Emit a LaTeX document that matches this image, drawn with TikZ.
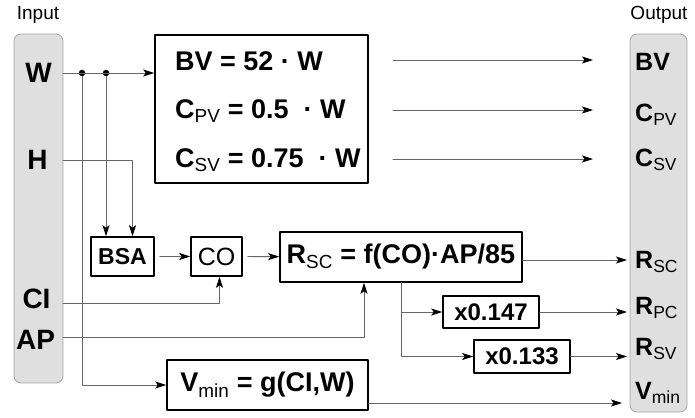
\documentclass[tikz,border=0pt]{standalone}
\usepackage{fontspec}
\setmainfont{Liberation Sans}
\usetikzlibrary{arrows.meta,positioning}
\newcommand\idx[1]{\textsubscript{\mdseries #1}}
\tikzset{
  panel/.style={draw=gray!70, fill=gray!25, rounded corners=7pt, line width=0.8pt},
  calcbox/.style={draw, line width=1.6pt, inner sep=0pt},
  flow/.style={draw=black!60, line width=0.8pt, -{Stealth[length=11pt,width=7pt,inset=2.5pt,color=black]}},
  junction/.style={circle, fill=black, inner sep=0pt, minimum size=6.5pt},
  iolbl/.style={inner sep=0pt, font=\fontsize{28}{28}\selectfont\bfseries},
  outlbl/.style={anchor=west, inner sep=0pt, font=\fontsize{25}{25}\selectfont\bfseries},
  eqtext/.style={anchor=west, inner sep=0pt, font=\fontsize{27}{27}\selectfont\bfseries},
  title/.style={font=\fontsize{19}{19}\selectfont},
}
\begin{document}
\begin{tikzpicture}[x=1pt, y=-1pt, line cap=round, line join=round]
  \useasboundingbox (0,0) rectangle (695,417);
  % side panels
  \draw[panel] (14,34) rectangle (63,383);
  \draw[panel] (630,34) rectangle (687,412);
  \node[title] (intitle) at (38,15) {Input};
  \node[title] (outtitle) at (659,15) {Output};
  % inputs
  \node[iolbl] (W) at (38.5,73) {W};
  \node[iolbl] (H) at (37.5,160) {H};
  \node[iolbl] (CI) at (36.5,299) {CI};
  \node[iolbl] (AP) at (35.5,340) {AP};
  \coordinate (w0) at (63,73);
  \coordinate (h0) at (63,160);
  \coordinate (ci0) at (63,303);
  \coordinate (ap0) at (63,337);
  % outputs
  \node[outlbl] (BVo) at (635,62) {BV};
  \node[outlbl] (CPVo) at (635,115) {C\idx{PV}};
  \node[outlbl] (CSVo) at (635,160) {C\idx{SV}};
  \node[outlbl] (RSCo) at (635,262) {R\idx{SC}};
  \node[outlbl] (RPCo) at (635,308) {R\idx{PC}};
  \node[outlbl] (RSVo) at (635,349) {R\idx{SV}};
  \node[outlbl] (Vmino) at (635,393) {V\idx{min}};
  \coordinate (oe) at (627,0);
  % blocks
  \node[calcbox, minimum width=213, minimum height=148] (eqs) at (261.5,109) {};
  \node[eqtext] (bv) at (175,61) {BV = 52 · W};
  \node[eqtext] (cpv) at (175,111) {C\idx{PV} = 0.5 \ · W};
  \node[eqtext] (csv) at (175,160) {C\idx{SV} = 0.75 \ · W};
  \node[calcbox, minimum width=63, minimum height=39, font=\fontsize{23}{23}\selectfont\bfseries] (bsa) at (122.5,256.5) {BSA};
  \node[calcbox, minimum width=51, minimum height=39, font=\fontsize{25}{25}\selectfont] (co) at (216.5,256.5) {CO};
  \node[calcbox, minimum width=242, minimum height=50, font=\fontsize{27}{27}\selectfont\bfseries] (rsc) at (401,257) {R\idx{SC} = f(CO)·AP/85};
  \node[calcbox, minimum width=96, minimum height=32, font=\fontsize{24}{24}\selectfont\bfseries] (k147) at (491,312) {x0.147};
  \node[calcbox, minimum width=96, minimum height=33, font=\fontsize{24}{24}\selectfont\bfseries] (k133) at (522,356.5) {x0.133};
  \node[calcbox, minimum width=201, minimum height=50, font=\fontsize{27}{27}\selectfont\bfseries] (vmin) at (267.5,385) {V\idx{min} = g(CI,W)};
  \node[junction] (j1) at (82,73) {};
  \node[junction] (j2) at (106,73) {};
  % connections
  \draw[flow] (w0) -- (eqs.west |- w0);
  \draw[flow] (j1) |- (vmin.west);
  \draw[flow] (j2) -- (j2 |- bsa.north);
  \draw[flow] (h0) -| ([xshift=10pt]bsa.north);
  \draw[flow, shorten <=5pt] (bsa) -- (co);
  \draw[flow, shorten <=5pt] (co) -- (rsc);
  \draw[flow] (ci0) -| ([xshift=3pt]co.south);
  \draw[flow] (ap0) -| ([xshift=-37pt]rsc.south);
  \coordinate (bvs) at (393,60);
  \coordinate (cpvs) at (393,110);
  \coordinate (csvs) at (393,159);
  \coordinate (ae) at (593,0);
  \draw[flow] (bvs) -- (bvs -| ae);
  \draw[flow] (cpvs) -- (cpvs -| ae);
  \draw[flow] (csvs) -- (csvs -| ae);
  \draw[flow] ([yshift=-3pt]rsc.east) -- ([yshift=-3pt]rsc.east -| oe);
  \draw[flow] (rsc.south) |- (k147.west);
  \draw[flow] (rsc.south) |- (k133.west);
  \draw[flow] (k147) -- (k147 -| oe);
  \draw[flow] (k133) -- (k133 -| oe);
  \draw[flow] ([yshift=-18pt]vmin.east) -- ([yshift=-18pt,xshift=-5pt]vmin.east -| oe);
\end{tikzpicture}
\end{document}
